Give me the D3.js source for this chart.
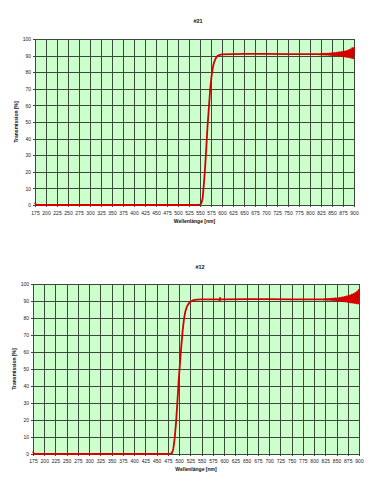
<!DOCTYPE html>
<html><head><meta charset="utf-8">
<script src="https://cdn.jsdelivr.net/npm/d3@7"></script>
<style>body{margin:0;background:#fff}svg{display:block;font-family:"Liberation Sans",Arial,sans-serif}</style>
</head><body>
<script>
const xTickValues = [175,200,225,250,275,300,325,350,375,400,425,450,475,500,525,550,575,600,625,650,675,700,725,750,775,800,825,850,875,900];
const yTickValues = [0,10,20,30,40,50,60,70,80,90,100];
const titles = ["#21", "#12"];
const xAxisTitle = "Wellenlänge [nm]";
const yAxisTitle = "Transmission [%]";

const tailWl = [820,822,824,826,828,830,832,834,836,838,840,842,844,846,848,850,852,854,856,858,860,862,864,866,868,870,872,874,876,878,880,882,884,886,888,890,892,894,896,898,900];

const wl21 = [175,176,178,200,300,400,500,540,550,553,556,558,561,564,567,570,573,576,579,582,586,590,595,600,625,650,700,750,800].concat(tailWl);
const t21 = [1.5,0.8,0,0,0,0,0,0,0.2,1,4,10,20,33,47,58,69,77,82.5,86,88.5,89.8,90.4,90.7,90.9,91,91,90.9,90.9,
  90.9,90.7,91.0,90.7,91.1,90.6,91.1,90.6,91.2,90.5,91.2,90.5,91.3,90.4,91.4,90.3,91.5,90.2,91.6,90.1,91.7,90.0,91.9,89.9,92.0,89.8,92.2,89.6,92.4,89.5,92.6,89.3,92.9,89.1,93.3,88.9,93.8,88.6,94.5,88.3,95.0];

const wl12 = [175,176,178,200,300,400,470,480,484,487,490,493,496,499,502,505,508,511,514,517,521,525,530,535,540,550,575,589,590,591,592,600,650,700,750,800].concat(tailWl);
const t12 = [1.5,0.8,0,0,0,0,0,0.1,0.5,3,9,18,30,43,54,64,73,79.8,84,86.5,88.5,89.6,90.3,90.6,90.8,91,91,91,90.0,91.8,91,91,91.1,91.1,91,91,
  91.0,90.8,91.1,90.8,91.2,90.7,91.2,90.7,91.3,90.6,91.4,90.5,91.5,90.4,91.6,90.3,91.7,90.2,91.8,90.1,92.0,90.0,92.2,89.8,92.4,89.7,92.7,89.5,93.0,89.3,93.3,89.1,93.7,89.0,94.2,88.8,94.8,88.6,95.6,88.5,97.0];

const svg = d3.select("body").append("svg").attr("width",375).attr("height",500);

function drawChart(cfg){
  const g = svg.append("g");
  const x = d3.scaleLinear().domain([175,900]).range([cfg.left,cfg.right]);
  const y = d3.scaleLinear().domain([0,100]).range([cfg.bottom,cfg.top]);
  g.append("rect").attr("x",cfg.left).attr("y",cfg.top).attr("width",cfg.right-cfg.left).attr("height",cfg.bottom-cfg.top).attr("fill","#ccffcc");
  // grid
  g.append("g").selectAll("line").data(xTickValues).join("line")
    .attr("x1",d=>Math.round(x(d))+0.5).attr("x2",d=>Math.round(x(d))+0.5)
    .attr("y1",cfg.top).attr("y2",cfg.bottom+2).attr("stroke","#3a4a3a").attr("stroke-width",1);
  g.append("g").selectAll("line").data(yTickValues).join("line")
    .attr("y1",d=>Math.round(y(d))+0.5).attr("y2",d=>Math.round(y(d))+0.5)
    .attr("x1",cfg.left-2).attr("x2",cfg.right).attr("stroke","#3a4a3a").attr("stroke-width",1);
  // axes labels
  const xa = d3.axisBottom(x).tickValues(xTickValues).tickSize(0).tickPadding(0);
  const xg = g.append("g").attr("transform",`translate(0,${cfg.bottom})`).call(xa);
  xg.select(".domain").remove();
  xg.selectAll("text").attr("dy",null).attr("y",cfg.xLabelDy).attr("font-size",5).attr("fill","#222").attr("font-family","Liberation Sans, Arial");
  const ya = d3.axisLeft(y).tickValues(yTickValues).tickSize(0).tickPadding(0);
  const yg = g.append("g").attr("transform",`translate(${cfg.yLabelX},0)`).call(ya);
  yg.select(".domain").remove();
  yg.selectAll("text").attr("x",0).attr("dy","0.35em").attr("font-size",5).attr("fill","#222").attr("font-family","Liberation Sans, Arial");
  // line
  const data = cfg.wl.map((w,i)=>[w,cfg.t[i]]);
  g.append("path").datum(data).attr("d",d3.line().x(d=>x(d[0])).y(d=>y(d[1])))
    .attr("fill","none").attr("stroke","#d40000").attr("stroke-width",1.8).attr("stroke-linejoin","round");
  // titles
  g.append("text").attr("x",cfg.titleX).attr("y",cfg.titleY).attr("text-anchor","middle")
    .attr("font-size",5.5).attr("font-weight","bold").attr("fill","#111").text(cfg.title);
  g.append("text").attr("x",(cfg.left+cfg.right)/2).attr("y",cfg.xTitleY).attr("text-anchor","middle")
    .attr("font-size",5).attr("font-weight","bold").attr("fill","#111").text(xAxisTitle);
  g.append("text").attr("transform",`translate(${cfg.yTitleX},${(cfg.top+cfg.bottom)/2}) rotate(-90)`)
    .attr("text-anchor","middle").attr("font-size",5).attr("font-weight","bold").attr("fill","#111").text(yAxisTitle);
}

drawChart({left:35,right:354,top:39,bottom:205,yLabelX:31,xLabelDy:10,xTitleY:223,yTitleX:18,titleX:198,titleY:23,title:titles[0],wl:wl21,t:t21});
drawChart({left:33,right:359,top:284,bottom:454,yLabelX:29,xLabelDy:9,xTitleY:471,yTitleX:16,titleX:200,titleY:269,title:titles[1],wl:wl12,t:t12});
</script>
</body></html>
